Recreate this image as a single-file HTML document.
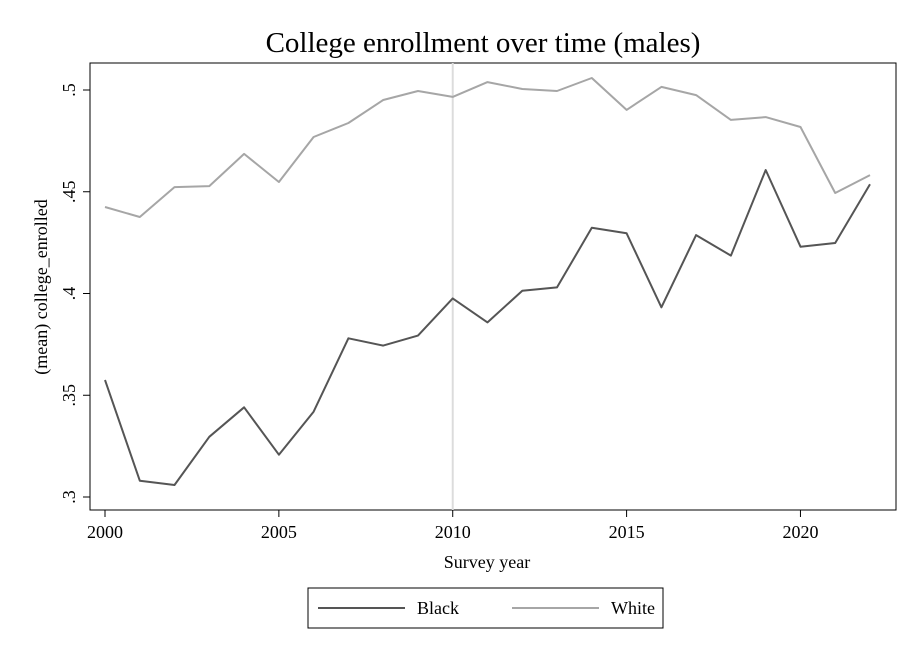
<!DOCTYPE html>
<html><head><meta charset="utf-8"><style>
html,body{margin:0;padding:0;background:#fff;}
svg{display:block;font-family:"Liberation Serif",serif;}
</style></head><body>
<svg id="chart" width="908" height="660" viewBox="0 0 908 660">
<rect x="0" y="0" width="908" height="660" fill="#fff"/>
<text x="483" y="52" font-size="29" text-anchor="middle" fill="#000">College enrollment over time (males)</text>
<rect x="90" y="63" width="806" height="447" fill="none" stroke="#000" stroke-width="1"/>
<g id="axes"></g>
<g id="series"></g>
<text x="487" y="568" font-size="18" text-anchor="middle">Survey year</text>
<text transform="translate(47,287) rotate(-90)" font-size="18" text-anchor="middle">(mean) college_enrolled</text>
<g>
<rect x="308" y="588" width="355" height="40" fill="#fff" stroke="#000" stroke-width="1"/>
<line x1="318" y1="608" x2="405" y2="608" stroke="#555" stroke-width="2"/>
<text x="417" y="614" font-size="18">Black</text>
<line x1="512" y1="608" x2="599" y2="608" stroke="#a6a6a6" stroke-width="2"/>
<text x="611" y="614" font-size="18">White</text>
</g>
</svg>
<script>
const years=[2000,2001,2002,2003,2004,2005,2006,2007,2008,2009,2010,2011,2012,2013,2014,2015,2016,2017,2018,2019,2020,2021,2022];
const blackValues=[.3575,.3080,.3059,.3296,.3441,.3208,.3419,.3780,.3744,.3793,.3976,.3858,.4014,.4030,.4323,.4296,.3932,.4287,.4186,.4607,.4230,.4248,.4537];
const whiteValues=[.4425,.4376,.4523,.4528,.4686,.4548,.4769,.4838,.4951,.4995,.4966,.5039,.5005,.4995,.5059,.4902,.5015,.4975,.4853,.4867,.4818,.4494,.4582];
const xTicks=[2000,2005,2010,2015,2020];
const yTicks=[.3,.35,.4,.45,.5];
const yTickLabels=[".3",".35",".4",".45",".5"];
const refYear=2010;

const NS="http://www.w3.org/2000/svg";
function xs(v){return 105+(v-2000)*(870-105)/22;}
function ys(v){return 497-(v-.3)*(497-90)/.2;}
function mk(tag,attrs,parent){const e=document.createElementNS(NS,tag);for(const k in attrs)e.setAttribute(k,attrs[k]);parent.appendChild(e);return e;}
const axes=document.getElementById('axes'),series=document.getElementById('series');
xTicks.forEach(t=>{
  const l=mk('line',{x1:xs(t),x2:xs(t),y1:510,y2:517,stroke:'#000'},axes);
  
  
  const tx=mk('text',{x:xs(t),y:538,'font-size':18,'text-anchor':'middle'},axes);
  tx.textContent=t;
  
  
});
yTicks.forEach((t,i)=>{
  const l=mk('line',{x1:83,x2:90,y1:ys(t),y2:ys(t),stroke:'#000'},axes);
  
  
  const tx=mk('text',{transform:`translate(75,${ys(t)}) rotate(-90)`,'font-size':18,'text-anchor':'middle'},axes);
  tx.textContent=yTickLabels[i];
  
  
});
const ref=mk('line',{x1:xs(refYear),x2:xs(refYear),y1:63,y2:510,stroke:'#dcdcdc','stroke-width':2},series);


function path(vals,color,name){
  const d=vals.map((v,i)=>(i?'L':'M')+xs(years[i]).toFixed(1)+','+ys(v).toFixed(1)).join(' ');
  const p=mk('path',{d:d,fill:'none',stroke:color,'stroke-width':2,'stroke-linejoin':'round'},series);
  
  
}
path(whiteValues,'#a6a6a6','white-series-line');
path(blackValues,'#555555','black-series-line');
</script>
</body></html>
